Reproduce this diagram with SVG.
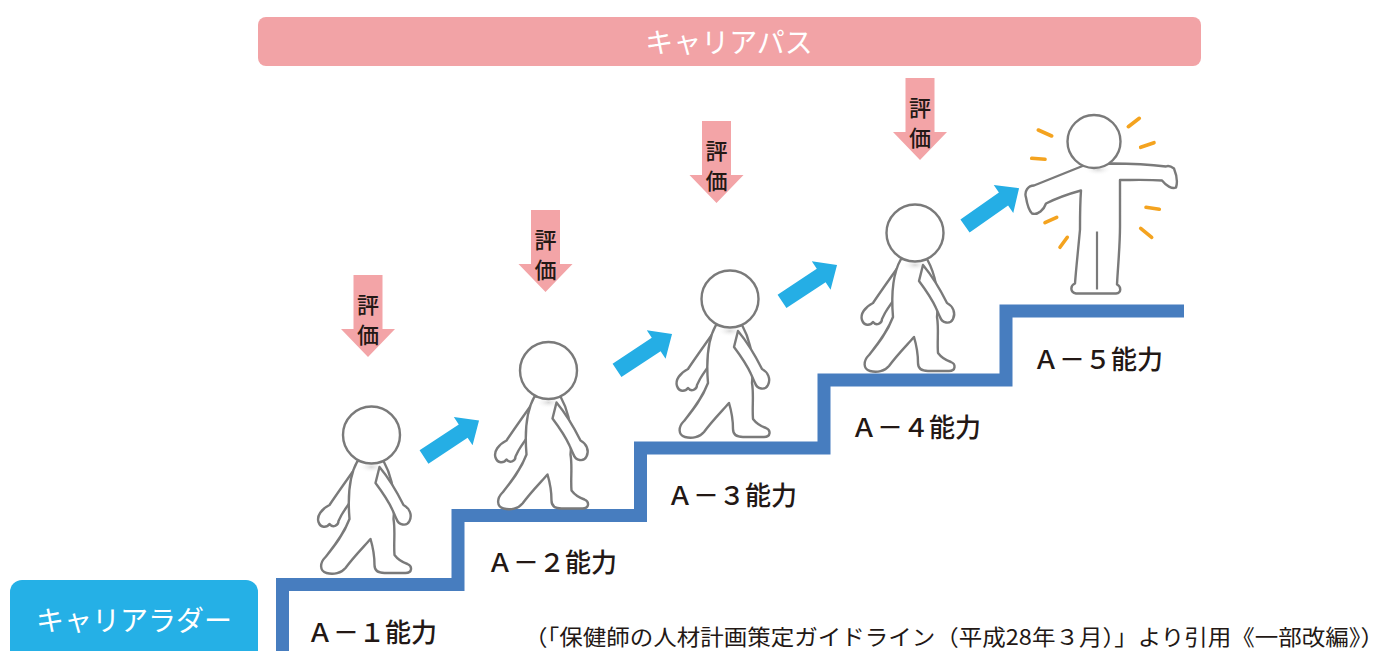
<svg xmlns="http://www.w3.org/2000/svg" xmlns:xlink="http://www.w3.org/1999/xlink" width="1386" height="651" viewBox="0 0 1386 651">
  <style>
    .jp { font-family: "Noto Sans CJK JP", "Noto Sans", sans-serif; }
    .banner-text { fill: #ffffff; font-size: 28px; font-weight: 400; }
    .level { fill: #231815; font-size: 26px; font-weight: 500; }
    .eval { fill: #231815; font-size: 22px; font-weight: 500; text-anchor: middle; }
    .cite { fill: #231815; font-size: 22px; font-weight: 400; }
    .fig { fill: #ffffff; stroke: #7a7a7a; stroke-width: 2.4; stroke-linejoin: round; }
    .ray { stroke: #f4a31f; stroke-width: 3.6; stroke-linecap: round; fill: none; }
    .up { fill: #25aee5; }
    .down { fill: #f3a4a7; }
  </style>
  <defs>
    <filter id="soft" x="-10%" y="-10%" width="120%" height="120%">
      <feGaussianBlur stdDeviation="0.55"/>
    </filter>
    <radialGradient id="neckShade" cx="0.5" cy="0.5" r="0.5">
      <stop offset="0" stop-color="#d9d9d9"/>
      <stop offset="1" stop-color="#ffffff" stop-opacity="0"/>
    </radialGradient>
    <!-- evaluation arrow, centred on x=0, top at y=0 -->
    <path id="evalArrow" d="M-14.5 0 H14.5 V54 H27 L0 82 L-27 54 H-14.5 Z"/>
    <!-- progress arrow, tail at origin, pointing along +x -->
    <path id="stepArrow" d="M0 -8 H47 V-17 L66 0 L47 17 V8 H0 Z"/>
    <!-- walking person, head centre at origin -->
    <g id="walker">
      <!-- back arm -->
      <path class="fig" d="M-14 30 C-24 44 -34 58 -42 70 C-50 74 -55 81 -53 87 C-51 93 -45 93 -42 89 C-39 93 -33 91 -33 86 L-30 80 C-24 70 -16 60 -10 52 Z"/>
      <!-- torso and legs -->
      <path class="fig" d="M-14 26 C-22 40 -24 60 -22 84 C-28 100 -38 112 -46 122 C-52 128 -52 136 -45 138 C-38 140 -30 138 -26 133 C-18 122 -8 112 -1 104 C2 114 3 122 3 130 C3 136 7 138 13 138 L34 138 C41 138 41 131 36 129 C30 127 26 124 23 120 C22 108 24 96 22 84 C24 64 22 44 12 26 Z"/>
      <ellipse cx="0" cy="32" rx="13" ry="6" fill="url(#neckShade)"/>
      <!-- front arm -->
      <path class="fig" d="M8 32 C18 44 26 58 32 70 C38 73 41 80 38 86 C35 92 27 90 25 84 C23 80 22 77 21 75 C16 64 10 56 4 48 Z"/>
      <circle class="fig" cx="0" cy="0" r="28.5"/>
    </g>
  </defs>

  <!-- career path banner -->
  <g id="career-path">
    <rect x="258" y="17" width="943" height="49" rx="8" fill="#f2a3a6"/>
    <text class="jp banner-text" x="729" y="53" text-anchor="middle">キャリアパス</text>
  </g>

  <!-- career ladder label -->
  <g id="career-ladder">
    <rect x="10" y="580" width="248" height="86" rx="12" fill="#25b0e6"/>
    <text class="jp banner-text" x="134" y="631" text-anchor="middle">キャリアラダー</text>
  </g>

  <!-- staircase -->
  <g id="stairs">
    <path d="M282.5 651 V584.5 H458 V515.5 H640.5 V448 H824 V380 H1006 V311 H1184" fill="none" stroke="#477dbf" stroke-width="13" stroke-linejoin="miter"/>
  </g>

  <!-- ability levels -->
  <g id="level-1"><text class="jp level" x="307" y="642">Ａ－１能力</text></g>
  <g id="level-2"><text class="jp level" x="487" y="572">Ａ－２能力</text></g>
  <g id="level-3"><text class="jp level" x="667" y="505">Ａ－３能力</text></g>
  <g id="level-4"><text class="jp level" x="851" y="437">Ａ－４能力</text></g>
  <g id="level-5"><text class="jp level" x="1033" y="369">Ａ－５能力</text></g>

  <!-- evaluation arrows -->
  <g id="eval-1">
    <use xlink:href="#evalArrow" class="down" transform="translate(368 275)"/>
    <text class="jp eval" x="368" y="313">評</text>
    <text class="jp eval" x="368" y="343">価</text>
  </g>
  <g id="eval-2">
    <use xlink:href="#evalArrow" class="down" transform="translate(545.5 210)"/>
    <text class="jp eval" x="545.5" y="248">評</text>
    <text class="jp eval" x="545.5" y="278">価</text>
  </g>
  <g id="eval-3">
    <use xlink:href="#evalArrow" class="down" transform="translate(716.5 121)"/>
    <text class="jp eval" x="716.5" y="159">評</text>
    <text class="jp eval" x="716.5" y="189">価</text>
  </g>
  <g id="eval-4">
    <use xlink:href="#evalArrow" class="down" transform="translate(920 78)"/>
    <text class="jp eval" x="920" y="116">評</text>
    <text class="jp eval" x="920" y="146">価</text>
  </g>

  <!-- people -->
  <g id="person-1" filter="url(#soft)"><use xlink:href="#walker" transform="translate(371.5 435)"/></g>
  <g id="person-2" filter="url(#soft)"><use xlink:href="#walker" transform="translate(548.5 370.5)"/></g>
  <g id="person-3" filter="url(#soft)"><use xlink:href="#walker" transform="translate(730 299)"/></g>
  <g id="person-4" filter="url(#soft)"><use xlink:href="#walker" transform="translate(915 233)"/></g>

  <g id="person-5">
    <g class="rays">
      <line class="ray" x1="1038.3" y1="130" x2="1051.7" y2="136"/>
      <line class="ray" x1="1031.7" y1="158.3" x2="1045" y2="159.3"/>
      <line class="ray" x1="1128.3" y1="126.7" x2="1139.3" y2="118.3"/>
      <line class="ray" x1="1140.7" y1="147.3" x2="1154" y2="142.7"/>
      <line class="ray" x1="1146" y1="207.3" x2="1159.3" y2="209.3"/>
      <line class="ray" x1="1140.7" y1="228.3" x2="1151.7" y2="237.3"/>
      <line class="ray" x1="1045" y1="222.7" x2="1056.7" y2="217.3"/>
      <line class="ray" x1="1060" y1="247.3" x2="1067.3" y2="237.3"/>
    </g>
    <g filter="url(#soft)" transform="translate(1094 141.5)">
      <!-- arms, torso and legs -->
      <path class="fig" d="M-9 23.5 C-30 32 -50 40 -60 44 C-66 44 -70 50 -68 56 C-67 62 -66 68 -62 72 C-56 74 -50 68 -48 62 C-36 56 -24 52 -13 49 C-14 62 -14 76 -14 88 C-16 110 -18 128 -19 142 C-24 144 -24 151 -18 152 L22 152 C28 151 27 145 23 143 C24 124 26 104 26 85 C26 68 26 52 26 38.5 C40 38.5 56 38 68 39 C72 44 78 48 82 46 C84 40 82 32 80 27 C76 24 74 24 72 25 C56 23 40 22 17.7 22 Z"/>
      <path d="M3 90 V148" fill="none" stroke="#7a7a7a" stroke-width="2.2"/>
      <ellipse cx="4" cy="28" rx="14" ry="6" fill="url(#neckShade)"/>
      <circle class="fig" cx="0" cy="0" r="26.5"/>
    </g>
  </g>

  <!-- progress arrows -->
  <g id="connectors">
    <use xlink:href="#stepArrow" class="up" transform="translate(424 457) rotate(-33.5)"/>
    <use xlink:href="#stepArrow" class="up" transform="translate(617 370.4) rotate(-33.5)"/>
    <use xlink:href="#stepArrow" class="up" transform="translate(782 301.4) rotate(-33.5)"/>
    <use xlink:href="#stepArrow" class="up" transform="translate(965 226) rotate(-35)"/>
  </g>

  <!-- source note -->
  <g id="source">
    <text class="jp cite" x="524" y="645" textLength="860" lengthAdjust="spacingAndGlyphs">（「保健師の人材計画策定ガイドライン（平成28年３月）」より引用《一部改編》）</text>
  </g>
</svg>
